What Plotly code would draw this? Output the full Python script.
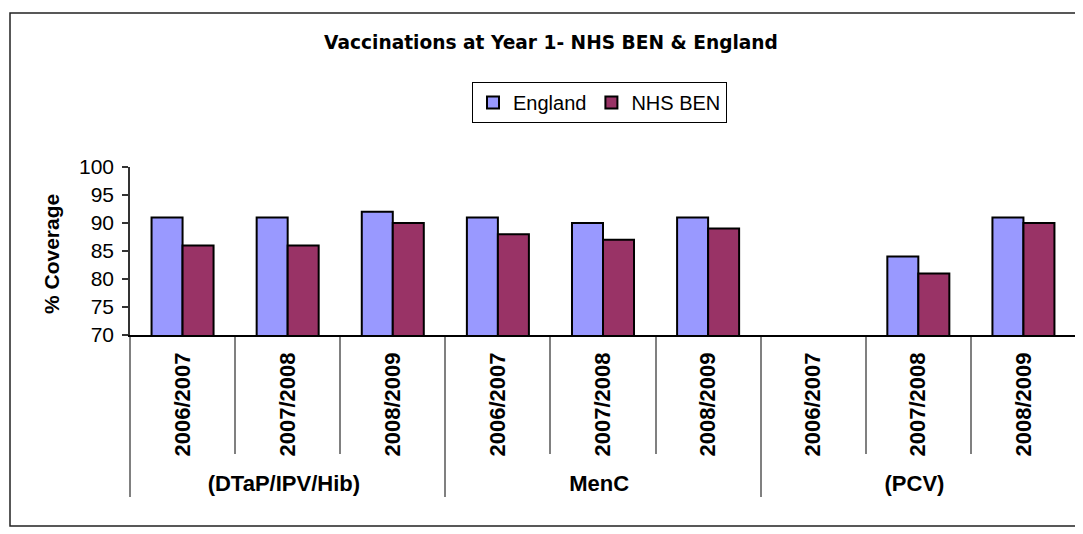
import plotly.graph_objects as go

groups = ["(DTaP/IPV/Hib)"] * 3 + ["MenC"] * 3 + ["(PCV)"] * 3
years = ["2006/2007", "2007/2008", "2008/2009"] * 3
england = [91, 91, 92, 91, 90, 91, None, 84, 91]
nhs_ben = [86, 86, 90, 88, 87, 89, None, 81, 90]

# page body has an 8px margin; work in screen coordinates and shift
OFF = 8
W, H = 1083 - OFF, 534 - OFF
L, T = 130 - OFF, 167 - OFF
R = W - (1076 - OFF)
B = H - (335 - OFF)
pw = W - L - R
ph = H - T - B


def px(x):
    return (x - OFF - L) / pw


def py(y):
    return (H - B - (y - OFF)) / ph


fig = go.Figure()
fig.add_trace(go.Bar(
    x=[groups, years], y=england, name="England",
    marker=dict(color="#9999FF", line=dict(color="black", width=2)),
))
fig.add_trace(go.Bar(
    x=[groups, years], y=nhs_ben, name="NHS BEN",
    marker=dict(color="#993366", line=dict(color="black", width=2)),
))

fig.update_layout(
    width=W, height=H, autosize=False,
    margin=dict(l=L, r=R, t=T, b=B, pad=0),
    paper_bgcolor="white", plot_bgcolor="white",
    barmode="group", bargap=0.41, bargroupgap=0,
    font=dict(family="Liberation Sans, Arial", color="black"),
    title=dict(
        text="Vaccinations at Year 1- NHS BEN & England",
        font=dict(family="DejaVu Sans", size=18.6, weight="bold", color="black"),
        x=(551 - OFF) / W, xanchor="center", xref="container",
        y=1 - (42 - OFF) / H, yanchor="middle", yref="container",
    ),
    legend=dict(
        orientation="h",
        x=px(472), xanchor="left",
        y=py(82), yanchor="top",
        bordercolor="black", borderwidth=1, bgcolor="white",
        font=dict(size=20, color="black"),
        itemwidth=30,
    ),
    showlegend=True,
)

fig.update_yaxes(
    range=[70, 100], dtick=5, tick0=70,
    showline=True, linecolor="#333333", linewidth=1.5,
    ticks="outside", ticklen=6, tickcolor="#333333", tickwidth=1.5,
    showgrid=False, zeroline=False,
    tickfont=dict(size=21, color="black"),
    ticklabelstandoff=4,
)

fig.update_xaxes(
    type="multicategory",
    showline=True, linecolor="black", linewidth=1.5,
    ticks="outside", ticklen=117, tickcolor="#808080", tickwidth=1.5,
    showdividers=True, dividercolor="#808080", dividerwidth=1.5,
    tickangle=-90,
    tickfont=dict(size=22, weight="bold", color="black"),
    ticklabelstandoff=7,
    showgrid=False,
)

fig.add_annotation(
    text="<b>% Coverage</b>", textangle=-90,
    x=px(51), y=py(254), xref="paper", yref="paper",
    xanchor="center", yanchor="middle", showarrow=False,
    font=dict(size=21, color="black"),
)

fig.add_shape(
    type="rect", xref="paper", yref="paper",
    x0=px(10), x1=px(1100), y0=py(526), y1=py(13),
    line=dict(color="#222222", width=1.5), fillcolor="rgba(0,0,0,0)",
    layer="below",
)

fig.write_html("out.html")
